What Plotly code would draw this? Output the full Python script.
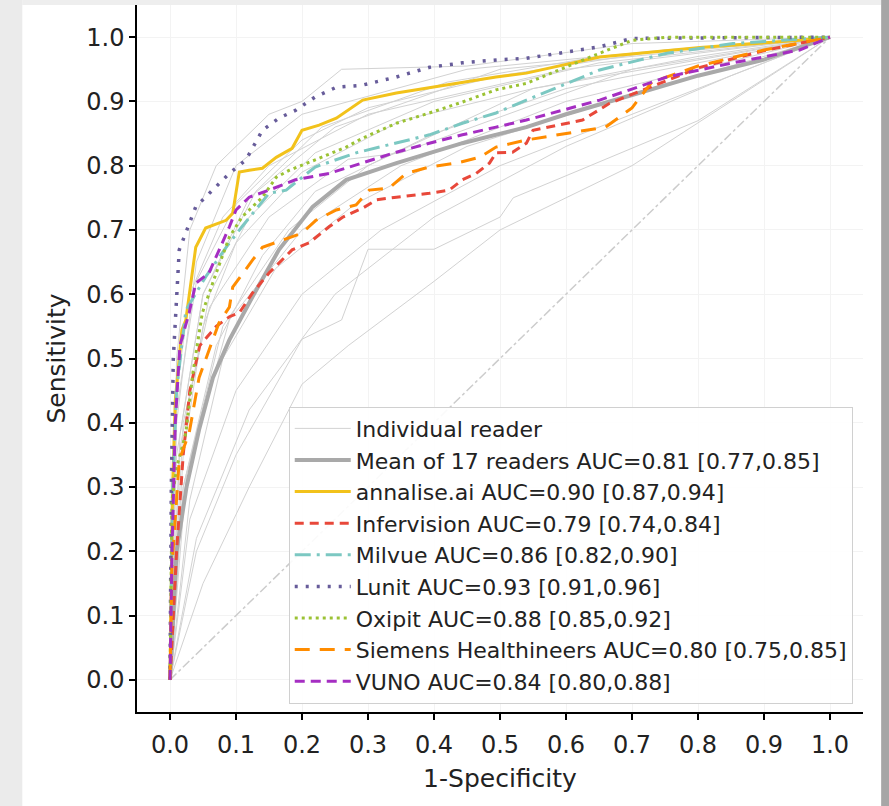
import plotly.graph_objects as go

# ROC curves (x = 1-specificity, y = sensitivity)
lunit_x = [0, 0.002, 0.005, 0.01, 0.014, 0.039, 0.064, 0.09, 0.115, 0.14, 0.165, 0.19, 0.22, 0.252, 0.29, 0.343, 0.393, 0.443, 0.5, 0.54, 0.651, 0.70, 1.0]
lunit_y = [0, 0.3, 0.5, 0.6, 0.669, 0.736, 0.762, 0.788, 0.809, 0.855, 0.874, 0.886, 0.907, 0.922, 0.925, 0.938, 0.953, 0.96, 0.965, 0.967, 0.985, 0.998, 1.0]

annalise_x = [0, 0.004, 0.008, 0.018, 0.024, 0.039, 0.054, 0.085, 0.095, 0.105, 0.12, 0.14, 0.161, 0.185, 0.2, 0.226, 0.252, 0.292, 0.343, 0.393, 0.443, 0.494, 0.54, 0.651, 0.803, 0.954, 1.0]
annalise_y = [0, 0.3, 0.435, 0.544, 0.56, 0.673, 0.703, 0.715, 0.726, 0.79, 0.793, 0.796, 0.813, 0.827, 0.855, 0.863, 0.874, 0.902, 0.913, 0.921, 0.93, 0.938, 0.944, 0.969, 0.984, 0.995, 1.0]

milvue_x = [0, 0.004, 0.01, 0.024, 0.054, 0.064, 0.085, 0.109, 0.13, 0.15, 0.176, 0.22, 0.282, 0.343, 0.393, 0.443, 0.494, 0.54, 0.6, 0.651, 0.753, 0.853, 1.0]
milvue_y = [0, 0.3, 0.45, 0.575, 0.627, 0.642, 0.673, 0.705, 0.731, 0.757, 0.762, 0.798, 0.82, 0.835, 0.848, 0.866, 0.882, 0.902, 0.928, 0.949, 0.975, 0.99, 1.0]

oxipit_x = [0, 0.003, 0.01, 0.024, 0.035, 0.049, 0.07, 0.09, 0.109, 0.14, 0.161, 0.181, 0.22, 0.267, 0.292, 0.343, 0.393, 0.443, 0.494, 0.54, 0.651, 0.70, 0.753, 1.0]
oxipit_y = [0, 0.28, 0.33, 0.384, 0.48, 0.571, 0.633, 0.689, 0.72, 0.751, 0.782, 0.793, 0.809, 0.829, 0.843, 0.866, 0.882, 0.899, 0.918, 0.928, 0.975, 0.995, 1.0, 1.0]

vuno_x = [0, 0.003, 0.008, 0.015, 0.029, 0.039, 0.059, 0.07, 0.09, 0.1, 0.12, 0.15, 0.19, 0.241, 0.292, 0.343, 0.393, 0.443, 0.494, 0.54, 0.651, 0.753, 0.853, 0.954, 1.0]
vuno_y = [0, 0.2, 0.4, 0.52, 0.571, 0.617, 0.633, 0.658, 0.705, 0.731, 0.751, 0.762, 0.778, 0.788, 0.804, 0.821, 0.835, 0.848, 0.86, 0.871, 0.902, 0.938, 0.96, 0.98, 1.0]

infervision_x = [0, 0.01, 0.02, 0.03, 0.045, 0.07, 0.09, 0.105, 0.125, 0.15, 0.185, 0.211, 0.241, 0.262, 0.292, 0.313, 0.343, 0.393, 0.423, 0.443, 0.464, 0.484, 0.494, 0.519, 0.54, 0.55, 0.625, 0.666, 0.727, 0.803, 0.904, 1.0]
infervision_y = [0, 0.2, 0.35, 0.45, 0.52, 0.55, 0.565, 0.571, 0.602, 0.633, 0.669, 0.68, 0.705, 0.72, 0.734, 0.747, 0.751, 0.757, 0.762, 0.778, 0.788, 0.804, 0.82, 0.821, 0.835, 0.855, 0.871, 0.897, 0.922, 0.953, 0.98, 1.0]

siemens_x = [0, 0.003, 0.014, 0.029, 0.044, 0.059, 0.074, 0.09, 0.095, 0.125, 0.14, 0.17, 0.2, 0.221, 0.252, 0.282, 0.302, 0.332, 0.358, 0.393, 0.434, 0.469, 0.494, 0.54, 0.6, 0.66, 0.7, 0.73, 0.8, 0.9, 1.0]
siemens_y = [0, 0.176, 0.342, 0.384, 0.47, 0.513, 0.555, 0.58, 0.611, 0.653, 0.673, 0.684, 0.695, 0.715, 0.731, 0.739, 0.762, 0.765, 0.788, 0.798, 0.804, 0.813, 0.829, 0.84, 0.85, 0.86, 0.89, 0.93, 0.955, 0.98, 1.0]

mean_x = [0, 0.01, 0.025, 0.044, 0.065, 0.09, 0.125, 0.165, 0.216, 0.267, 0.343, 0.443, 0.54, 0.6, 0.7, 0.8, 0.9, 1.0]
mean_y = [0, 0.2, 0.3, 0.389, 0.47, 0.529, 0.596, 0.669, 0.736, 0.778, 0.804, 0.835, 0.86, 0.88, 0.91, 0.94, 0.965, 1.0]

# 17 individual readers
readers_x = [
    [0, 0.01, 0.05, 0.12, 0.25, 0.5, 1],
    [0, 0.02, 0.08, 0.18, 0.3, 0.55, 1],
    [0, 0.01, 0.04, 0.1, 0.2, 0.45, 0.75, 1],
    [0, 0.03, 0.1, 0.2, 0.32, 0.5, 0.7, 1],
    [0, 0.05, 0.12, 0.2, 0.27, 0.4, 0.5, 0.7, 1],
    [0, 0.04, 0.1, 0.2, 0.26, 0.3, 0.4, 0.5, 0.52, 0.8, 1],
    [0, 0.01, 0.03, 0.08, 0.15, 0.3, 0.6, 1],
    [0, 0.02, 0.06, 0.15, 0.27, 0.35, 0.7, 1],
    [0, 0.015, 0.05, 0.13, 0.23, 0.42, 0.65, 1],
    [0, 0.02, 0.07, 0.14, 0.22, 0.4, 0.6, 1],
    [0, 0.01, 0.03, 0.07, 0.15, 0.2, 0.26, 0.45, 0.7, 1],
    [0, 0.02, 0.05, 0.1, 0.2, 0.35, 0.55, 0.8, 1],
    [0, 0.03, 0.08, 0.16, 0.28, 0.45, 0.7, 1],
    [0, 0.025, 0.09, 0.2, 0.35, 0.6, 1],
    [0, 0.01, 0.04, 0.1, 0.2, 0.3, 0.5, 0.75, 1],
    [0, 0.04, 0.12, 0.25, 0.4, 0.6, 0.85, 1],
    [0, 0.015, 0.06, 0.12, 0.22, 0.4, 0.65, 1],
]
readers_y = [
    [0, 0.35, 0.6, 0.75, 0.86, 0.95, 1],
    [0, 0.3, 0.55, 0.7, 0.8, 0.92, 1],
    [0, 0.4, 0.65, 0.8, 0.88, 0.95, 0.98, 1],
    [0, 0.25, 0.45, 0.6, 0.7, 0.8, 0.88, 1],
    [0, 0.15, 0.3, 0.46, 0.52, 0.62, 0.7, 0.8, 1],
    [0, 0.2, 0.35, 0.53, 0.56, 0.67, 0.67, 0.72, 0.75, 0.87, 1],
    [0, 0.45, 0.6, 0.72, 0.8, 0.88, 0.95, 1],
    [0, 0.4, 0.58, 0.72, 0.81, 0.82, 0.95, 1],
    [0, 0.38, 0.6, 0.76, 0.86, 0.93, 0.97, 1],
    [0, 0.3, 0.52, 0.66, 0.76, 0.85, 0.92, 1],
    [0, 0.5, 0.7, 0.8, 0.88, 0.9, 0.95, 0.955, 0.99, 1],
    [0, 0.35, 0.55, 0.68, 0.79, 0.87, 0.92, 0.97, 1],
    [0, 0.28, 0.5, 0.64, 0.74, 0.83, 0.91, 1],
    [0, 0.32, 0.56, 0.7, 0.8, 0.9, 1],
    [0, 0.42, 0.62, 0.74, 0.84, 0.89, 0.94, 0.98, 1],
    [0, 0.22, 0.42, 0.6, 0.72, 0.83, 0.94, 1],
    [0, 0.36, 0.6, 0.72, 0.82, 0.9, 0.96, 1],
]

chance = [0, 1]
ticks = [0.0, 0.1, 0.2, 0.3, 0.4, 0.5, 0.6, 0.7, 0.8, 0.9, 1.0]

fig = go.Figure()

for i in range(len(readers_x)):
    fig.add_trace(go.Scatter(x=readers_x[i], y=readers_y[i], mode="lines",
                             line=dict(color="#d2d2d2", width=1),
                             name="Individual reader", legendgroup="readers",
                             showlegend=(i == 0)))

fig.add_trace(go.Scatter(x=chance, y=chance, mode="lines", showlegend=False,
                         line=dict(color="#cccccc", width=1.5, dash="dashdot")))

curves = [
    (mean_x, mean_y, "Mean of 17 readers AUC=0.81 [0.77,0.85]", "#a9a9a9", 4, "solid"),
    (annalise_x, annalise_y, "annalise.ai AUC=0.90 [0.87,0.94]", "#f2c21b", 3, "solid"),
    (infervision_x, infervision_y, "Infervision AUC=0.79 [0.74,0.84]", "#e8483a", 3, "9px,6px"),
    (milvue_x, milvue_y, "Milvue AUC=0.86 [0.82,0.90]", "#7cc8c2", 3, "16px,6px,3px,6px"),
    (lunit_x, lunit_y, "Lunit AUC=0.93 [0.91,0.96]", "#675c9a", 3.5, "3px,8px"),
    (oxipit_x, oxipit_y, "Oxipit AUC=0.88 [0.85,0.92]", "#9bc234", 3, "3px,4px"),
    (siemens_x, siemens_y, "Siemens Healthineers AUC=0.80 [0.75,0.85]", "#ff8c00", 3, "15px,10px"),
    (vuno_x, vuno_y, "VUNO AUC=0.84 [0.80,0.88]", "#a52ec2", 3, "10px,6px"),
]
for cx, cy, name, color, width, dash in curves:
    fig.add_trace(go.Scatter(x=cx, y=cy, mode="lines", name=name,
                             line=dict(color=color, width=width, dash=dash)))

axis_style = dict(range=[-0.05, 1.05], tickvals=ticks, tickformat=".1f",
                  showline=True, linecolor="black", linewidth=1.5,
                  ticks="outside", ticklen=6, tickwidth=1.5, tickcolor="black",
                  showgrid=True, gridcolor="#f3f3f3", zeroline=False,
                  automargin=False,
                  tickfont=dict(size=24, color="#222222"))

fig.update_layout(
    width=889, height=806,
    margin=dict(l=137, r=26, t=5, b=94),
    paper_bgcolor="white", plot_bgcolor="white",
    font=dict(family="DejaVu Sans", color="#222222"),
    xaxis=dict(title=dict(text="1-Specificity", font=dict(size=25), standoff=12),
               ticklabelstandoff=4, **axis_style),
    yaxis=dict(title=dict(text="Sensitivity", font=dict(size=25), standoff=14), **axis_style),
    legend=dict(x=0.209, y=0.432, xanchor="left", yanchor="top",
                bgcolor="rgba(255,255,255,0.9)", bordercolor="#d0d0d0", borderwidth=1,
                font=dict(size=22, color="#222222"), tracegroupgap=0,
                itemwidth=56),
    showlegend=True,
    shapes=[
        dict(type="rect", xref="paper", yref="paper", x0=-0.19, x1=-0.158, y0=-0.14, y1=1.01,
             fillcolor="#ebebeb", line=dict(width=0), layer="above"),
        dict(type="rect", xref="paper", yref="paper", x0=-0.158, x1=1.025, y0=1.0, y1=1.01,
             fillcolor="#eeeeee", line=dict(width=0), layer="below"),
        dict(type="rect", xref="paper", yref="paper", x0=1.025, x1=1.04, y0=-0.14, y1=1.01,
             fillcolor="#a6a6a6", line=dict(width=0), layer="above"),
    ],
)

fig.write_html("out.html", config={"displayModeBar": False},
               post_script="document.body.style.margin='0px';")
